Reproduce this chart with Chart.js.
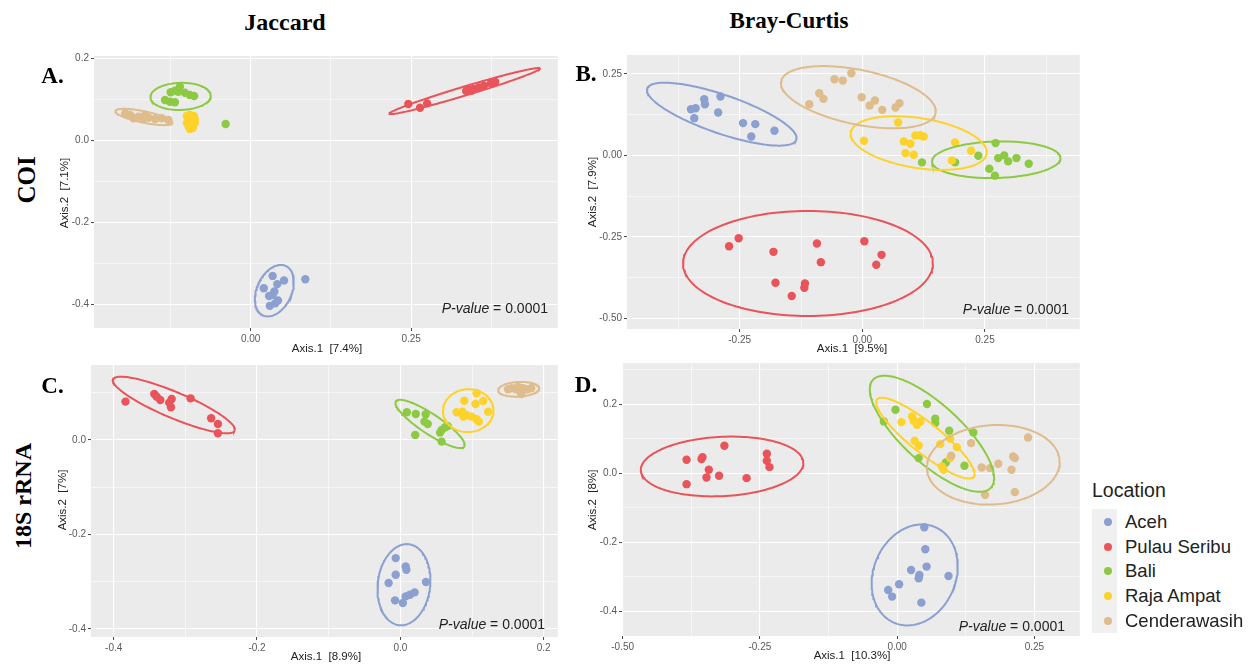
<!DOCTYPE html>
<html><head><meta charset="utf-8">
<script src="https://cdn.jsdelivr.net/npm/chart.js@4.4.1/dist/chart.umd.min.js"></script>
<style>
body{margin:0;width:1256px;height:664px;background:#fff;position:relative;overflow:hidden;font-family:'Liberation Sans',Arial,sans-serif;}
.t{position:absolute;white-space:nowrap;line-height:1;transform:translate(-50%,-50%);}
.serif{font-family:'Liberation Serif','Times New Roman',serif;font-weight:bold;color:#000;}
.ax{font-size:11.5px;color:#222;}
.rot{transform:translate(-50%,-50%) rotate(-90deg);}
.pv{position:absolute;white-space:nowrap;line-height:1;font-size:14px;color:#222;transform:translateY(-50%);text-align:right;}
canvas{position:absolute;}
.leg{position:absolute;white-space:nowrap;line-height:1;color:#222;transform:translateY(-50%);}
.dot{position:absolute;width:8px;height:8px;border-radius:50%;transform:translate(-50%,-50%);}
</style>
</head><body>
<script>
// ---------------- DATA ----------------
const groups = ['Aceh','Pulau Seribu','Bali','Raja Ampat','Cenderawasih'];

// Panel A: COI / Jaccard  (points [Axis.1, Axis.2])
const coiJac_Aceh = [[0.0343,-0.330],[0.0205,-0.360],[0.0415,-0.350],[0.052,-0.341],[0.037,-0.368],[0.0288,-0.379],[0.0426,-0.390],[0.0299,-0.403],[0.0382,-0.397],[0.0343,-0.376],[0.0852,-0.338]];
const coiJac_Pulau = [[0.2456,0.0894],[0.2638,0.0805],[0.2749,0.091],[0.340,0.1236],[0.3468,0.126],[0.355,0.130],[0.3634,0.134],[0.3744,0.140],[0.381,0.143],[0.344,0.122],[0.3357,0.1211]];
const coiJac_Bali = [[-0.1245,0.118],[-0.1179,0.122],[-0.1101,0.1317],[-0.1127,0.1195],[-0.1024,0.117],[-0.0946,0.1115],[-0.088,0.109],[-0.1333,0.0993],[-0.1256,0.0951],[-0.1179,0.0937],[-0.0389,0.0407]];
const coiJac_Raja = [[-0.0993,0.0602],[-0.0946,0.0627],[-0.0884,0.0602],[-0.0977,0.0529],[-0.0915,0.0505],[-0.0869,0.0529],[-0.0993,0.0432],[-0.0931,0.0407],[-0.0869,0.0432],[-0.0962,0.0334],[-0.09,0.031],[-0.0946,0.0285]];
const coiJac_Cend = [[-0.1953,0.0668],[-0.1875,0.0627],[-0.1747,0.0585],[-0.167,0.0546],[-0.1592,0.0561],[-0.1488,0.0529],[-0.1385,0.0546],[-0.1282,0.0505],[-0.1824,0.0546],[-0.1643,0.0627]];
// ellipses: [centerX, centerY, semiAxis1X, semiAxis1Y, semiAxis2X, semiAxis2Y] per group
const coiJac_ellipses = [[0.037,-0.366,0.0166,0.061,0.0254,-0.015],[0.3335,0.1211,0.1173,0.0553,0.002,-0.0105],[-0.109,0.108,0.047,0.003,-0.002,0.033],[-0.0934,0.0456,0.007,0,0,0.017],[-0.1663,0.0578,0.0444,-0.0146,0.002,0.0135]];
const coiJac_xTicks = [0.00,0.25], coiJac_xLabels = ['0.00','0.25'];
const coiJac_yTicks = [0.2,0.0,-0.2,-0.4], coiJac_yLabels = ['0.2','0.0','-0.2','-0.4'];

// Panel B: COI / Bray-Curtis
const coiBray_Aceh = [[-0.3493,0.1418],[-0.3399,0.1449],[-0.3426,0.1143],[-0.3223,0.1724],[-0.3209,0.1571],[-0.2892,0.1806],[-0.2939,0.1316],[-0.2432,0.099],[-0.2182,0.0959],[-0.2264,0.0582],[-0.1791,0.0755]];
const coiBray_Pulau = [[-0.2716,-0.2786],[-0.252,-0.2541],[-0.1811,-0.2959],[-0.177,-0.3908],[-0.1439,-0.4316],[-0.1169,-0.3929],[-0.1182,-0.4061],[-0.0926,-0.2704],[-0.0845,-0.3276],[0.0041,-0.2633],[0.0392,-0.3051],[0.0284,-0.3357]];
const coiBray_Bali = [[0.1216,-0.0214],[0.1892,-0.0214],[0.2365,-0.001],[0.2716,0.0378],[0.277,-0.0082],[0.2892,0.0],[0.2973,-0.0184],[0.3142,-0.0082],[0.3392,-0.0255],[0.2588,-0.0408],[0.2703,-0.0622]];
const coiBray_Raja = [[0.0034,0.0449],[0.073,0.101],[0.0845,0.0429],[0.098,0.0357],[0.1081,0.0612],[0.125,0.0582],[0.0878,0.0071],[0.1047,0.002],[0.1892,0.0398],[0.2217,0.0143],[0.1824,-0.0153],[0.118,0.062]];
const coiBray_Cend = [[-0.1081,0.1571],[-0.0878,0.1908],[-0.0791,0.1735],[-0.0568,0.2337],[-0.0399,0.2296],[-0.0223,0.252],[-0.0014,0.1786],[0.0149,0.1531],[0.0257,0.1684],[0.0405,0.1398],[0.0676,0.1469],[0.0757,0.1602]];
const coiBray_ellipses = [[-0.2865,0.1265,0.152,-0.0786,-0.0127,-0.056],[-0.1108,-0.3316,0.2547,0,0,0.1612],[0.273,-0.0133,0.131,0.005,0,0.056],[0.1149,0.0378,0.1385,-0.0327,-0.0079,-0.0756],[-0.0081,0.1786,0.1574,-0.049,-0.0112,-0.0819]];
const coiBray_xTicks = [-0.25,0.00,0.25], coiBray_xLabels = ['-0.25','0.00','0.25'];
const coiBray_yTicks = [0.25,0.00,-0.25,-0.50], coiBray_yLabels = ['0.25','0.00','-0.25','-0.50'];

// Panel C: 18S rRNA / Jaccard
const rnaJac_Aceh = [[-0.0065,-0.25],[0.0074,-0.2676],[0.0084,-0.2746],[-0.0065,-0.2852],[-0.0164,-0.3028],[0.0357,-0.3007],[-0.0074,-0.3394],[0.0035,-0.345],[0.0074,-0.331],[0.0134,-0.3275],[0.0199,-0.3225]];
const rnaJac_Pulau = [[-0.3836,0.081],[-0.3434,0.0972],[-0.34,0.0915],[-0.335,0.0845],[-0.3226,0.0789],[-0.3191,0.0866],[-0.3201,0.069],[-0.2928,0.088],[-0.264,0.0458],[-0.2546,0.0338],[-0.2546,0.0141]];
const rnaJac_Bali = [[0.009,0.0585],[0.0215,0.0549],[0.0354,0.0543],[0.0336,0.0387],[0.0382,0.0338],[0.0554,0.0155],[0.0576,0.0211],[0.0624,0.0268],[0.066,0.0296],[0.0207,0.0106],[0.0576,-0.0036]];
const rnaJac_Raja = [[0.1063,0.0986],[0.0892,0.083],[0.1049,0.0761],[0.1156,0.0824],[0.0785,0.0585],[0.0864,0.0598],[0.0924,0.0528],[0.0878,0.0493],[0.0993,0.0493],[0.1063,0.0437],[0.1096,0.0387],[0.1225,0.0598]];
const rnaJac_Cend = [[0.1503,0.1071],[0.1558,0.1092],[0.1618,0.1071],[0.1665,0.1042],[0.1711,0.1092],[0.1771,0.1071],[0.1688,0.0972],[0.1826,0.1092],[0.1642,0.1127]];
const rnaJac_ellipses = [[0.005,-0.3063,0.0367,0,0.004,0.0859],[-0.3161,0.0739,0.0849,-0.0542,-0.0069,-0.0254],[0.0415,0.0338,0.0477,-0.048,-0.0077,-0.0176],[0.0947,0.0619,0.035,0.006,-0.004,0.045],[0.1651,0.1071,0.0287,0.002,0,0.0155]];
const rnaJac_xTicks = [-0.4,-0.2,0.0,0.2], rnaJac_xLabels = ['-0.4','-0.2','0.0','0.2'];
const rnaJac_yTicks = [0.0,-0.2,-0.4], rnaJac_yLabels = ['0.0','-0.2','-0.4'];

// Panel D: 18S rRNA / Bray-Curtis
const rnaBray_Aceh = [[0.0495,-0.1565],[0.0513,-0.2203],[0.0537,-0.2705],[0.0254,-0.2802],[0.0405,-0.2947],[0.0393,-0.3043],[0.0936,-0.2976],[0.0036,-0.3217],[-0.0163,-0.3382],[-0.0091,-0.3575],[0.0441,-0.3749]];
const rnaBray_Pulau = [[-0.3835,0.0386],[-0.3835,-0.0319],[-0.3563,0.0406],[-0.3545,0.0464],[-0.343,0.0097],[-0.3472,-0.0126],[-0.3243,-0.0077],[-0.3146,0.0792],[-0.2742,-0.0145],[-0.2373,0.056],[-0.2373,0.0357],[-0.2325,0.0174]];
const rnaBray_Bali = [[-0.003,0.1836],[0.0543,0.2],[-0.0242,0.1498],[0.0694,0.1575],[0.0694,0.1449],[0.0948,0.1227],[0.1389,0.1179],[0.0393,0.0435],[0.0888,0.031],[0.1226,0.0213]];
const rnaBray_Raja = [[0.0078,0.1478],[0.0272,0.1643],[0.0302,0.1517],[0.0362,0.1401],[0.0423,0.1498],[0.032,0.0937],[0.0393,0.0802],[0.0785,0.0841],[0.0966,0.0995],[0.1087,0.0754],[0.0966,0.0435],[0.0815,0.0193],[0.0845,0.0097]];
const rnaBray_Cend = [[0.1347,0.087],[0.0985,0.0502],[0.154,0.0164],[0.1691,0.0145],[0.1842,0.027],[0.2083,0.0097],[0.2114,0.0483],[0.2144,0.0435],[0.2385,0.1034],[0.1601,-0.0628],[0.2144,-0.055]];
const rnaBray_ellipses = [[0.032,-0.2947,0.038,0.138,0.0686,-0.0481],[-0.3188,0.0193,0.148,0.01,0,0.086],[0.0634,0.114,-0.108,0.155,-0.034,-0.065],[0.0514,0.1014,-0.088,0.112,-0.017,-0.034],[0.1751,0.0242,0.121,0.008,0,0.115]];
const rnaBray_xTicks = [-0.50,-0.25,0.00,0.25], rnaBray_xLabels = ['-0.50','-0.25','0.00','0.25'];
const rnaBray_yTicks = [0.2,0.0,-0.2,-0.4], rnaBray_yLabels = ['0.2','0.0','-0.2','-0.4'];

const axisTitles = {A:['Axis.1  [7.4%]','Axis.2  [7.1%]'],B:['Axis.1  [9.5%]','Axis.2  [7.9%]'],C:['Axis.1  [8.9%]','Axis.2  [7%]'],D:['Axis.1  [10.3%]','Axis.2  [8%]']};
const pValueText = '0.0001';

// ---------------- STYLE / LAYOUT ----------------
const groupColors = ['#8B9FD1','#E9545A','#8DCA43','#FDD22B','#DEBC8C'];
const YW = 50, XH = 24, PT = 8, PR = 2;
const panels = [
  {id:'A', groups:[coiJac_Aceh,coiJac_Pulau,coiJac_Bali,coiJac_Raja,coiJac_Cend], ell:coiJac_ellipses,
   xt:coiJac_xTicks, xl:coiJac_xLabels, yt:coiJac_yTicks, yl:coiJac_yLabels,
   box:[93.6,56,560,328], xr:[-0.2439,0.4784], yr:[-0.4571,0.2066]},
  {id:'B', groups:[coiBray_Aceh,coiBray_Pulau,coiBray_Bali,coiBray_Raja,coiBray_Cend], ell:coiBray_ellipses,
   xt:coiBray_xTicks, xl:coiBray_xLabels, yt:coiBray_yTicks, yl:coiBray_yLabels,
   box:[626.7,55,1082,329.3], xr:[-0.4797,0.4433], yr:[-0.5327,0.3081]},
  {id:'C', groups:[rnaJac_Aceh,rnaJac_Pulau,rnaJac_Bali,rnaJac_Raja,rnaJac_Cend], ell:rnaJac_ellipses,
   xt:rnaJac_xTicks, xl:rnaJac_xLabels, yt:rnaJac_yTicks, yl:rnaJac_yLabels,
   box:[91,365,560,637.3], xr:[-0.4317,0.2197], yr:[-0.4169,0.1585]},
  {id:'D', groups:[rnaBray_Aceh,rnaBray_Pulau,rnaBray_Bali,rnaBray_Raja,rnaBray_Cend], ell:rnaBray_ellipses,
   xt:rnaBray_xTicks, xl:rnaBray_xLabels, yt:rnaBray_yTicks, yl:rnaBray_yLabels,
   box:[621.7,363.3,1082,636], xr:[-0.5011,0.3327], yr:[-0.4715,0.3189]}
];

const bgPlugin = {id:'panelBg', beforeDraw(chart){const a=chart.chartArea,c=chart.ctx;c.save();c.fillStyle='#EBEBEB';c.fillRect(a.left,a.top,a.right-a.left,a.bottom-a.top);c.restore();}};

function ellipsePath(e){
  const [cx,cy,ax,ay,bx,by]=e, out=[];
  for(let k=0;k<=144;k++){const t=2*Math.PI*k/144;out.push({x:cx+ax*Math.cos(t)+bx*Math.sin(t),y:cy+ay*Math.cos(t)+by*Math.sin(t)});}
  return out;
}
function withMinors(ticks,range){
  const s=[...ticks].sort((a,b)=>a-b), step=s[1]-s[0], all=[...s];
  for(let i=0;i<s.length-1;i++) all.push((s[i]+s[i+1])/2);
  if(s[0]-step/2>=range[0]) all.push(s[0]-step/2);
  if(s[s.length-1]+step/2<=range[1]) all.push(s[s.length-1]+step/2);
  return all.sort((a,b)=>a-b);
}
const key=v=>Math.round(v*10000);

function axisOpts(ticks,labels,range,isX){
  const majors=new Map(ticks.map((v,i)=>[key(v),labels[i]]));
  const all=withMinors(ticks,range);
  const o={type:'linear',min:range[0],max:range[1],
    afterBuildTicks:s=>{s.ticks=all.map(v=>({value:v}));},
    ticks:{autoSkip:false,maxRotation:0,minRotation:0,padding:2,color:'#5a5a5a',
      font:{family:"'Liberation Sans', Arial, sans-serif",size:10},
      callback:v=>majors.has(key(v))?majors.get(key(v)):''},
    grid:{color:'#FFFFFF',lineWidth:c=>(c.tick&&majors.has(key(c.tick.value)))?1.1:0.55,
      tickColor:c=>(c.tick&&majors.has(key(c.tick.value)))?'#444':'rgba(0,0,0,0)',tickLength:3,tickWidth:1},
    border:{display:false}};
  if(isX) o.afterFit=s=>{s.height=XH;}; else o.afterFit=s=>{s.width=YW;};
  return o;
}

panels.forEach(p=>{
  const [l,t,r,b]=p.box;
  const cv=document.createElement('canvas');
  const W=Math.round(r-l+YW+PR), H=Math.round(b-t+PT+XH);
  cv.width=W; cv.height=H; cv.style.width=W+'px'; cv.style.height=H+'px';
  cv.style.left=(l-YW)+'px'; cv.style.top=(t-PT)+'px';
  document.body.appendChild(cv);
  const ds=[];
  p.groups.forEach((g,i)=>{
    ds.push({label:groups[i],data:g.map(d=>({x:d[0],y:d[1]})),backgroundColor:groupColors[i],borderWidth:0,pointRadius:4.2,pointHoverRadius:4.2,showLine:false,order:20-i});
    ds.push({label:groups[i]+' ellipse',data:ellipsePath(p.ell[i]),borderColor:groupColors[i],borderWidth:2,pointRadius:0,showLine:true,fill:false,tension:0,order:10-i});
  });
  new Chart(cv,{type:'scatter',data:{datasets:ds},
    options:{responsive:false,animation:false,devicePixelRatio:1,
      layout:{padding:{left:0,right:PR,top:PT,bottom:0}},
      plugins:{legend:{display:false},tooltip:{enabled:false}},
      scales:{x:axisOpts(p.xt,p.xl,p.xr,true),y:axisOpts(p.yt,p.yl,p.yr,false)}},
    plugins:[bgPlugin]});
});

// ---------------- TEXT ----------------
function addText(html,cls,x,y,style){const d=document.createElement('div');d.className=cls;d.innerHTML=html;d.style.left=x+'px';d.style.top=y+'px';if(style)d.style.cssText+=style;document.body.appendChild(d);return d;}
addText('Jaccard','t serif',285,22,'font-size:24px;');
addText('Bray-Curtis','t serif',789,20,'font-size:23px;');
addText('COI','t serif rot',26,180,'font-size:25px;');
addText('18S rRNA','t serif rot',23,496,'font-size:24px;');
addText('A.','t serif',52.5,75,'font-size:23px;');
addText('B.','t serif',586,73,'font-size:23px;');
addText('C.','t serif',52.5,385,'font-size:23px;');
addText('D.','t serif',586,384,'font-size:23px;');
const sp=s=>s.replace(/ /g,'&nbsp;');
addText(sp(axisTitles.A[0]),'t ax',327,349);
addText(sp(axisTitles.A[1]),'t ax rot',65,193);
addText(sp(axisTitles.B[0]),'t ax',852,349);
addText(sp(axisTitles.B[1]),'t ax rot',593,192);
addText(sp(axisTitles.C[0]),'t ax',326,656.5);
addText(sp(axisTitles.C[1]),'t ax rot',62.5,500);
addText(sp(axisTitles.D[0]),'t ax',852,656);
addText(sp(axisTitles.D[1]),'t ax rot',593,500);
[[548,308],[1069,309],[545,624],[1065,626]].forEach(([rx,cy])=>{
  const d=document.createElement('div');d.className='pv';d.innerHTML='<i>P-value</i> = '+pValueText;
  d.style.right=(1256-rx)+'px';d.style.top=cy+'px';document.body.appendChild(d);
});
// legend
const lb=document.createElement('div');lb.style.cssText='position:absolute;left:1092px;top:509px;width:25px;height:124px;background:#F0F0F0;';document.body.appendChild(lb);
const lt=document.createElement('div');lt.className='leg';lt.textContent='Location';lt.style.cssText+='left:1092px;top:491px;font-size:19.5px;';document.body.appendChild(lt);
const legY=[521.7,546.7,570.5,595.7,620.7];
groups.forEach((g,i)=>{
  const d=document.createElement('div');d.className='dot';d.style.left='1108px';d.style.top=legY[i]+'px';d.style.background=groupColors[i];document.body.appendChild(d);
  const s=document.createElement('div');s.className='leg';s.textContent=g;s.style.cssText+='left:1125px;top:'+legY[i]+'px;font-size:18.5px;';document.body.appendChild(s);
});
</script>
</body></html>
